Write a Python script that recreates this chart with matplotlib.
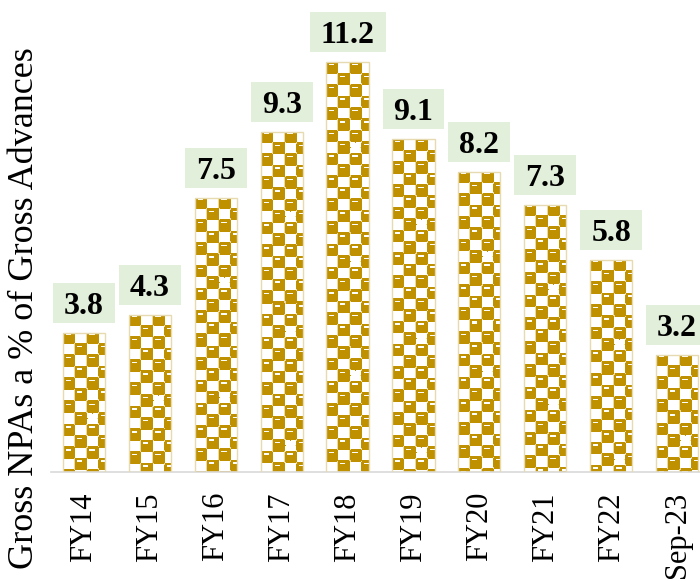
import numpy as np
import matplotlib
matplotlib.use("Agg")
import matplotlib.pyplot as plt
from matplotlib.patches import Rectangle
from matplotlib.transforms import IdentityTransform

categories = ["FY14", "FY15", "FY16", "FY17", "FY18", "FY19", "FY20", "FY21", "FY22", "Sep-23"]
gross_npa = [3.8, 4.3, 7.5, 9.3, 11.2, 9.1, 8.2, 7.3, 5.8, 3.2]
y_title = "Gross NPAs a % of Gross Advances"

GOLD = np.array([191, 144, 0]) / 255.0
WHITE = np.array([1.0, 1.0, 1.0])
HILITE = np.array([236, 218, 160]) / 255.0
LABEL_BG = "#E2EFDA"
SERIF = ["Liberation Serif", "DejaVu Serif"]

W, H, DPI = 700, 581, 100
fig = plt.figure(figsize=(W / DPI, H / DPI), dpi=DPI)
ax = fig.add_axes([51 / W, (H - 472) / H, 659 / W, 472 / H])

x = np.arange(len(categories))
bar_w = 0.64
ax.set_xlim(-0.5, len(categories) - 0.5)
ax.set_ylim(0, 12.9)


def sphere_pattern(h, w, cell=11.4, radius=6.4, p=8):
    """Gold rounded blocks on a checker grid, each with a small highlight."""
    yy, xx = np.mgrid[0:h, 0:w].astype(float)
    yy += 0.5
    xx += 0.5
    cx = np.floor(xx / cell)
    cy = np.floor(yy / cell)
    gold = np.zeros((h, w), dtype=bool)
    dash = np.zeros((h, w), dtype=bool)
    rim = np.zeros((h, w), dtype=bool)
    for ox in (-1, 0, 1):
        for oy in (-1, 0, 1):
            gx = cx + ox
            gy = cy + oy
            on = ((gx + gy) % 2) == 0
            dx = xx - (gx + 0.5) * cell
            dy = yy - (gy + 0.5) * cell
            d = (np.abs(dx) ** p + np.abs(dy) ** p) ** (1.0 / p)
            gold |= on & (d < radius)
            rim |= on & (d >= radius - 0.9) & (d < radius) & (dx < -radius + 1.5)
            dash |= on & (dy > -3.6) & (dy < -2.2) & (dx > -3.2) & (dx < 2.2)
    img = np.where(gold[..., None], GOLD, WHITE)
    img[rim] = HILITE
    img[dash] = WHITE
    return img


bars = ax.bar(x, gross_npa, width=bar_w, facecolor="none",
              edgecolor="#E6DBB0", linewidth=1.0, zorder=3)

for rect in bars:
    x0, y0 = rect.get_x(), rect.get_y()
    x1, y1 = x0 + rect.get_width(), y0 + rect.get_height()
    (px0, py0), (px1, py1) = ax.transData.transform([(x0, y0), (x1, y1)])
    pw = max(int(round(px1 - px0)), 1)
    ph = max(int(round(py1 - py0)), 1)
    img = sphere_pattern(ph, pw)
    im = ax.imshow(img, extent=(x0, x1, y0, y1), origin="upper",
                   interpolation="nearest", aspect="auto", zorder=2)
    im.set_clip_path(rect)

# value labels: bold numbers sitting on light-green boxes above each bar
texts = []
for xi, v in zip(x, gross_npa):
    t = ax.annotate(f"{v:.1f}", (xi, v), xytext=(0, 19), textcoords="offset pixels",
                    ha="center", va="baseline", fontsize=23, fontweight="bold",
                    family=SERIF, color="black", zorder=7, annotation_clip=False)
    texts.append((t, xi, v))

ax.set_xticks(x)
ax.set_xticklabels(categories, rotation=90, fontsize=22, family=SERIF)
ax.tick_params(axis="x", length=0, pad=14.4)
ax.set_yticks([])
for s in ("top", "right", "left"):
    ax.spines[s].set_visible(False)
ax.spines["bottom"].set_color("#D9D9D9")
ax.spines["bottom"].set_linewidth(1.2)

fig.text(25 / W, 1 - 308 / H, y_title, rotation=90, ha="center", va="center",
         fontsize=26, family=SERIF)

fig.canvas.draw()
renderer = fig.canvas.get_renderer()
for t, xi, v in texts:
    bb = t.get_window_extent(renderer)
    cx = (bb.x0 + bb.x1) / 2
    _, top = ax.transData.transform((xi, v))
    bw = bb.width + 22
    bh = 40
    box = Rectangle((cx - bw / 2, top + 10), bw, bh, transform=IdentityTransform(),
                    facecolor=LABEL_BG, edgecolor="none", zorder=5, clip_on=False)
    ax.add_artist(box)

fig.savefig("out.png", dpi=DPI)
